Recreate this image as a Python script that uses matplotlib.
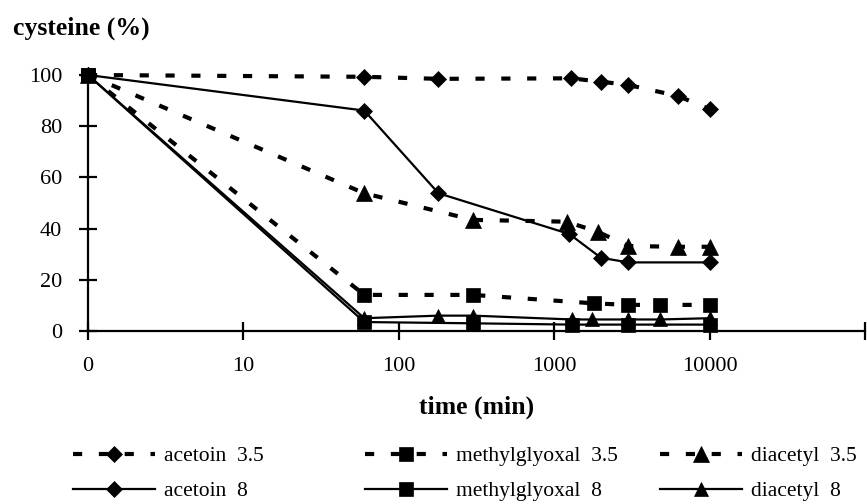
import matplotlib
matplotlib.use("Agg")
import matplotlib.pyplot as plt
import numpy as np

plt.rcParams['font.family'] = ['Liberation Serif', 'DejaVu Serif']

# ---- data (time in minutes; 0 is drawn at the axis origin like the original log axis) ----
t_acetoin35 = [0, 60, 180, 1280, 2000, 3000, 6250, 10000]
y_acetoin35 = [100, 99.3, 98.5, 98.7, 97.4, 96.1, 91.8, 86.7]

t_acetoin8 = [0, 60, 180, 1250, 2000, 3000, 10000]
y_acetoin8 = [100, 86.1, 53.8, 37.9, 28.6, 26.8, 26.8]

t_methyl35 = [0, 60, 300, 1800, 3000, 4800, 10000]
y_methyl35 = [100, 14.1, 14.1, 10.8, 10.2, 10.2, 10.2]

t_methyl8 = [0, 60, 300, 1300, 3000, 10000]
y_methyl8 = [100, 3.5, 3.0, 2.5, 2.5, 2.5]

t_diacetyl35 = [0, 60, 300, 1200, 1900, 3000, 6250, 10000]
y_diacetyl35 = [100, 53.8, 43.4, 42.7, 38.8, 33.2, 32.9, 32.9]

t_diacetyl8 = [0, 60, 180, 300, 1300, 1750, 3000, 4800, 10000]
y_diacetyl8 = [100, 5.0, 6.0, 6.0, 4.5, 4.5, 4.5, 4.5, 5.0]

xtick_vals = [1, 10, 100, 1000, 10000, 100000]
xtick_labels = ['0', '10', '100', '1000', '10000', '']
ytick_vals = [0, 20, 40, 60, 80, 100]

fig = plt.figure(figsize=(8.67, 5.04), dpi=100)
ax = fig.add_axes([88/867, 1-331/504, (865-88)/867, (331-75)/504])

def tx(t):
    return np.maximum(np.asarray(t, dtype=float), 1.0)

dash = (0, (2.2, 4.0))
dlw = 3.0
slw = 1.6

series = [
    (t_acetoin35, y_acetoin35, 'acetoin  3.5', dash, dlw, 'D', 8.5),
    (t_acetoin8, y_acetoin8, 'acetoin  8', '-', slw, 'D', 8.5),
    (t_methyl35, y_methyl35, 'methylglyoxal  3.5', dash, dlw, 's', 9.5),
    (t_methyl8, y_methyl8, 'methylglyoxal  8', '-', slw, 's', 9.5),
    (t_diacetyl35, y_diacetyl35, 'diacetyl  3.5', dash, dlw, '^', 11),
    (t_diacetyl8, y_diacetyl8, 'diacetyl  8', '-', slw, '^', 10),
]

handles = []
for t, y, lab, ls, lw, mk, ms in series:
    h, = ax.plot(tx(t), y, color='black', linestyle=ls, linewidth=lw,
                 marker=mk, markersize=ms, markerfacecolor='black',
                 markeredgecolor='black', markeredgewidth=0.5,
                 clip_on=False, label=lab, dash_capstyle='butt')
    handles.append(h)

ax.set_xscale('log')
ax.set_xlim(1, 100000)
ax.set_ylim(0, 100)
ax.set_xticks(xtick_vals)
ax.set_xticklabels(xtick_labels)
ax.xaxis.set_minor_locator(matplotlib.ticker.NullLocator())
ax.set_yticks(ytick_vals)

for s in ['top', 'right']:
    ax.spines[s].set_visible(False)
for s in ['left', 'bottom']:
    ax.spines[s].set_linewidth(1.6)

ax.tick_params(axis='both', direction='inout', length=13, width=1.6,
               labelsize=16, pad=12)

ax.set_xlabel('time (min)', fontsize=18.5, fontweight='bold', labelpad=14)
fig.text(13/867, 1-28/504, 'cysteine (%)', fontsize=18.5, fontweight='bold',
         ha='left', va='center')

# legends: three columns with two rows each
cols = [(handles[0:2], 73), (handles[2:4], 365), (handles[4:6], 660)]
for hs, xpx in cols:
    leg = fig.legend(handles=hs, labels=[h.get_label() for h in hs],
                     loc='upper left', bbox_to_anchor=(xpx/867, 1-446/504),
                     frameon=False, fontsize=15.5, handlelength=3.8,
                     handletextpad=0.45, borderpad=0, borderaxespad=0,
                     labelspacing=0.7, numpoints=1)

fig.savefig('out.png', dpi=100)
